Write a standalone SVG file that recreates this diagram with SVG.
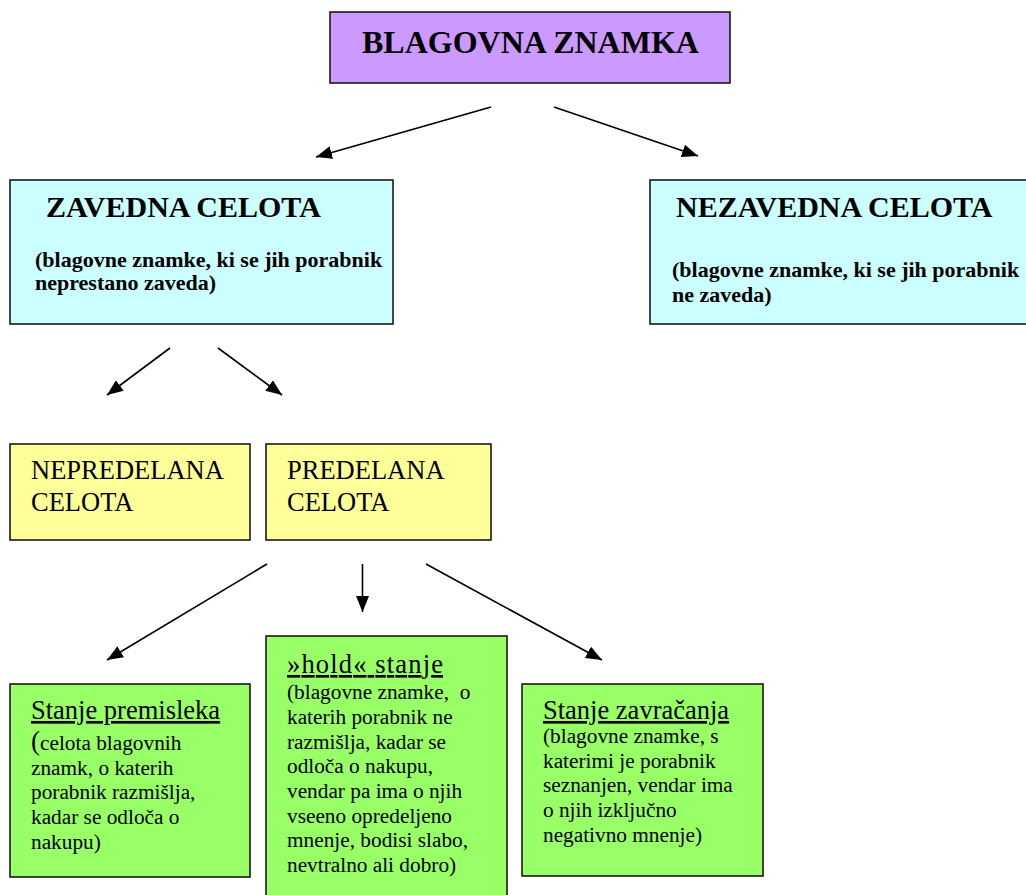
<svg xmlns="http://www.w3.org/2000/svg" width="1026" height="895" viewBox="0 0 1026 895">
<style>
.box{stroke:#1a1a1a;stroke-width:1.6}
.purple{fill:#CC99FF}
.cyan{fill:#CCFFFF}
.yellow{fill:#FFFF99}
.green{fill:#99FF66}
.t1{font-size:32px;font-weight:bold}
.t2{font-size:30px;font-weight:bold}
.sub{font-size:22px;font-weight:bold}
.yt{font-size:26.5px}
.gt{font-size:26.5px;text-decoration:underline}
.body{font-size:21.3px}
.conn line{stroke:#000;stroke-width:1.6;marker-end:url(#ah)}
</style>
<defs>
<marker id="ah" markerWidth="16" markerHeight="13" refX="16" refY="6.5" orient="auto" markerUnits="userSpaceOnUse">
<path d="M0,0 L16,6.5 L0,13 z" fill="#000"/>
</marker>
</defs>
<rect width="1026" height="895" fill="#fff"/>
<g font-family="Liberation Serif, Tinos, DejaVu Serif, serif" fill="#000">
<g id="blagovna-znamka">
<rect class="box purple" x="330" y="12" width="400" height="71"/>
<text class="t1" x="362" y="53">BLAGOVNA ZNAMKA</text>
</g>

<g id="zavedna-celota">
<rect class="box cyan" x="10" y="180" width="383" height="144"/>
<text class="t2" x="46" y="217">ZAVEDNA CELOTA</text>
<text class="sub" x="35" y="267">(blagovne znamke, ki se jih porabnik</text>
<text class="sub" x="35" y="290">neprestano zaveda)</text>
</g>

<g id="nezavedna-celota">
<rect class="box cyan" x="650" y="180" width="380" height="144"/>
<text class="t2" x="676" y="217">NEZAVEDNA CELOTA</text>
<text class="sub" x="672" y="277">(blagovne znamke, ki se jih porabnik</text>
<text class="sub" x="672" y="302">ne zaveda)</text>
</g>

<g id="nepredelana-celota">
<rect class="box yellow" x="10" y="444" width="240" height="96"/>
<text class="yt" x="31" y="479">NEPREDELANA</text>
<text class="yt" x="31" y="511">CELOTA</text>
</g>

<g id="predelana-celota">
<rect class="box yellow" x="266" y="444" width="225" height="96"/>
<text class="yt" x="287" y="479">PREDELANA</text>
<text class="yt" x="287" y="511">CELOTA</text>
</g>

<g id="stanje-premisleka">
<rect class="box green" x="10" y="684" width="240" height="193"/>
<text class="gt" x="31" y="719">Stanje premisleka</text>
<text class="body" x="31" y="750"><tspan font-size="27px">(</tspan>celota blagovnih</text>
<text class="body" x="31" y="775">znamk, o katerih</text>
<text class="body" x="31" y="799">porabnik razmišlja,</text>
<text class="body" x="31" y="824">kadar se odloča o</text>
<text class="body" x="31" y="849">nakupu)</text>
</g>

<g id="hold-stanje">
<rect class="box green" x="266" y="636" width="241" height="270"/>
<text class="gt" x="287" y="673" textLength="156" lengthAdjust="spacing">»hold« stanje</text>
<text class="body" x="287" y="699" xml:space="preserve">(blagovne znamke,  o</text>
<text class="body" x="287" y="724">katerih porabnik ne</text>
<text class="body" x="287" y="749">razmišlja, kadar se</text>
<text class="body" x="287" y="773">odloča o nakupu,</text>
<text class="body" x="287" y="798">vendar pa ima o njih</text>
<text class="body" x="287" y="823">vseeno opredeljeno</text>
<text class="body" x="287" y="847">mnenje, bodisi slabo,</text>
<text class="body" x="287" y="872">nevtralno ali dobro)</text>
</g>

<g id="stanje-zavracanja">
<rect class="box green" x="522" y="684" width="241" height="192"/>
<text class="gt" x="543" y="719">Stanje zavračanja</text>
<text class="body" x="543" y="743">(blagovne znamke, s</text>
<text class="body" x="543" y="768">katerimi je porabnik</text>
<text class="body" x="543" y="792">seznanjen, vendar ima</text>
<text class="body" x="543" y="817">o njih izključno</text>
<text class="body" x="543" y="842">negativno mnenje)</text>
</g>
</g>
<g id="connectors" class="conn">
<line x1="491" y1="107" x2="316" y2="157"/>
<line x1="554" y1="107" x2="698" y2="156"/>
<line x1="170" y1="348" x2="107" y2="395"/>
<line x1="218" y1="348" x2="282" y2="395"/>
<line x1="267" y1="564" x2="107" y2="660"/>
<line x1="362.5" y1="564" x2="362.5" y2="612"/>
<line x1="426" y1="564" x2="602" y2="660"/>
</g>
</svg>
